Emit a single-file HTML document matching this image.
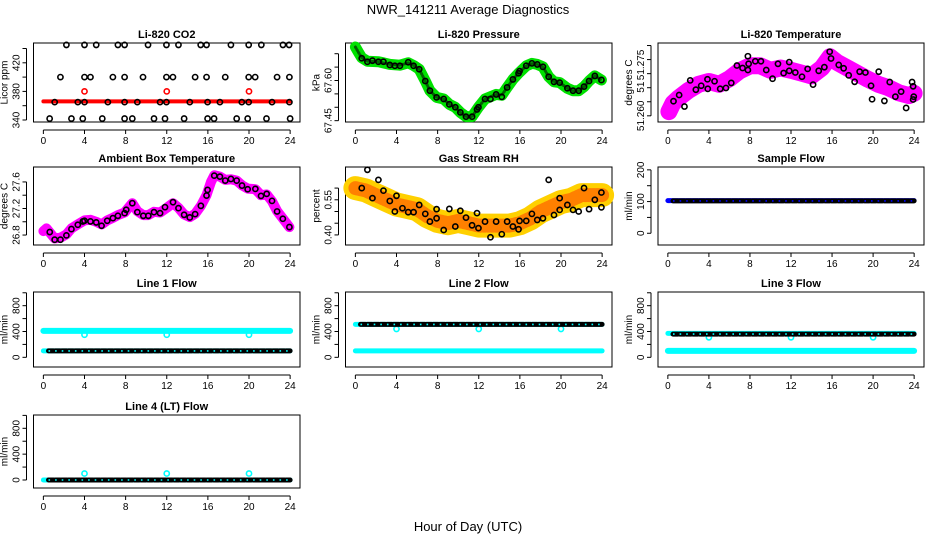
<!DOCTYPE html>
<html><head><meta charset="utf-8"><style>
html,body{margin:0;padding:0;background:#fff}
svg{display:block;font-family:"Liberation Sans",sans-serif}
</style></head><body>
<svg id="chart" width="936" height="540" viewBox="0 0 936 540" xmlns="http://www.w3.org/2000/svg">
<text x="468" y="14" text-anchor="middle" font-size="13">NWR_141211  Average Diagnostics</text>
<text x="468" y="531" text-anchor="middle" font-size="13">Hour of Day (UTC)</text>
</svg>
<script>
// ---- data ----
const xTicks = [0,4,8,12,16,20,24];
// CO2
const co2Hours = [2.24,4.0,5.14,7.25,7.9,10.18,11.97,13.14,15.3,15.87,18.24,19.97,21.2,23.3,23.9,
 1.66,4.0,4.58,6.76,7.9,9.69,11.97,12.6,14.76,15.87,17.69,19.97,20.6,22.73,23.93,
 1.1,3.35,4.0,6.27,7.9,9.14,11.35,11.97,14.24,15.97,17.17,19.3,19.97,22.24,23.93,
 0.61,2.73,3.83,5.73,7.9,8.65,10.76,11.83,13.69,15.97,16.6,18.8,19.87,21.7,24];
const co2Values = [445,445,445,445,445,445,445,445,445,445,445,445,445,445,445,
 400,400,400,400,400,400,400,400,400,400,400,400,400,400,400,
 365,365,365,365,365,365,365,365,365,365,365,365,365,365,365,
 342,342,342,342,342,342,342,342,342,342,342,342,342,342,342];
const co2BandHours = [0,4,8,12,16,20,24];
const co2BandValues = [366,366,366,366,366,366,366];
const co2OutHours = [4,12,20];
const co2OutValues = [380,380,380];
// Pressure
const presHours = [0.62,1.17,1.66,2.24,2.73,3.35,3.84,4.33,5.14,5.66,6.21,6.8,7.25,7.9,8.59,9.14,9.72,10.21,10.76,11.35,11.83,11.97,12.61,13.14,13.69,14.24,14.76,15.32,15.87,15.97,16.62,17.17,17.69,18.24,18.8,19.32,19.87,20.62,21.17,21.72,22.24,22.73,23.29,23.93];
const presValues = [67.683,67.670,67.674,67.670,67.670,67.658,67.655,67.655,67.668,67.655,67.642,67.598,67.562,67.537,67.531,67.511,67.500,67.481,67.465,67.465,67.492,67.500,67.531,67.531,67.548,67.539,67.574,67.604,67.627,67.635,67.655,67.664,67.660,67.651,67.614,67.595,67.592,67.571,67.562,67.562,67.577,67.598,67.617,67.602];
const presBandHours = [0,0.3,0.62,1.17,2.24,3.35,4.33,5.14,5.66,6.21,6.8,7.25,7.9,8.59,9.14,9.72,10.21,10.76,11.35,11.97,12.61,13.69,14.24,14.76,15.32,15.87,16.62,17.17,17.69,18.24,18.8,19.32,19.87,20.62,21.17,21.72,22.24,22.73,23.29,23.93];
const presBandValues = [67.725,67.705,67.685,67.672,67.670,67.660,67.657,67.666,67.656,67.642,67.598,67.562,67.537,67.531,67.511,67.500,67.481,67.465,67.465,67.500,67.531,67.548,67.545,67.574,67.604,67.627,67.655,67.664,67.660,67.651,67.614,67.595,67.592,67.571,67.562,67.562,67.577,67.598,67.617,67.602];
// Li-820 temperature
const ltHours = [0.55,1.1,1.62,2.18,2.73,3.25,3.86,3.89,4.55,5.1,5.66,6.18,6.73,7.28,7.8,7.8,7.87,8.52,9.07,9.59,10.2,10.73,11.28,11.83,11.83,12.42,13.07,13.62,14.15,14.7,15.25,15.77,15.9,16.65,17.13,17.62,18.2,18.69,19.25,19.8,19.9,20.55,21.1,21.62,22.17,22.73,23.22,23.8,23.9,23.9,23.96];
const ltValues = [51.2652,51.2674,51.2633,51.2726,51.2693,51.2707,51.2730,51.2696,51.2723,51.2696,51.2699,51.2717,51.2779,51.2770,51.2812,51.2763,51.2785,51.2794,51.2794,51.2763,51.2732,51.2785,51.2752,51.2791,51.2760,51.2754,51.2739,51.2767,51.2711,51.2760,51.2773,51.2828,51.2804,51.2781,51.2769,51.2744,51.2721,51.2757,51.2754,51.2707,51.2659,51.2757,51.2653,51.2720,51.2668,51.2686,51.2628,51.2720,51.2705,51.2658,51.2668];
const ltBandHours = [0.1,0.5,1,2,3,4,5,6,7,8,9,10,11,12,13,14,15,15.8,16.5,17.5,18.5,19.5,20.5,21.5,22.5,23.5,24];
const ltBandValues = [51.2615,51.2645,51.2662,51.2690,51.2712,51.2722,51.2712,51.2732,51.2760,51.2778,51.2778,51.2762,51.2770,51.2762,51.2752,51.2742,51.2770,51.2810,51.2790,51.2770,51.2750,51.2730,51.2712,51.2700,51.2682,51.2672,51.2680];
// Ambient box temperature
const abHours = [0.62,1.1,1.66,2.24,2.73,3.35,3.84,4.0,4.58,5.14,5.66,6.21,6.76,7.25,7.9,8.06,8.65,9.14,9.72,10.21,10.76,11.35,11.83,12.61,13.14,13.69,14.24,14.76,15.32,15.87,15.97,16.62,17.17,17.69,18.24,18.8,19.32,19.87,20.62,21.17,21.72,22.24,22.73,23.29,23.93];
const abValues = [26.845,26.73,26.73,26.795,26.89,26.955,27.005,27.015,27.005,26.99,26.94,27.015,27.055,27.09,27.13,27.18,27.28,27.145,27.09,27.09,27.145,27.13,27.22,27.295,27.205,27.105,27.065,27.115,27.24,27.395,27.48,27.695,27.68,27.62,27.645,27.62,27.545,27.49,27.495,27.39,27.42,27.315,27.155,27.045,26.92];
const abBandHours = [0,0.3,0.62,1.1,1.66,2.24,2.73,3.35,4.0,4.58,5.14,5.66,6.21,6.76,7.25,7.9,8.65,9.14,9.72,10.21,10.76,11.35,12.0,12.61,13.14,13.69,14.24,14.76,15.32,15.87,16.3,16.62,17.17,17.69,18.24,18.8,19.32,19.87,20.62,21.17,21.72,22.24,22.73,23.29,23.93];
const abBandValues = [26.86,26.90,26.84,26.75,26.76,26.81,26.90,26.96,27.02,27.03,27.00,26.96,27.02,27.06,27.10,27.14,27.28,27.16,27.10,27.10,27.15,27.14,27.21,27.28,27.21,27.11,27.07,27.12,27.24,27.40,27.60,27.70,27.68,27.63,27.64,27.62,27.55,27.50,27.49,27.40,27.41,27.31,27.16,27.05,26.92];
// Gas stream RH
const rhHours = [0.62,1.17,1.66,2.24,2.73,3.35,3.84,4.0,4.58,5.14,5.66,6.21,6.8,7.25,7.9,7.9,8.59,9.14,9.72,10.21,10.76,11.35,11.83,11.97,12.61,13.14,13.69,14.24,14.76,15.32,15.87,15.97,16.62,17.17,17.69,18.24,18.8,19.32,19.87,19.87,20.62,21.17,21.72,22.24,22.73,23.29,23.93,23.93];
const rhValues = [0.600,0.678,0.557,0.635,0.589,0.545,0.500,0.567,0.514,0.497,0.497,0.528,0.490,0.457,0.471,0.510,0.421,0.511,0.436,0.503,0.474,0.441,0.493,0.429,0.457,0.390,0.457,0.403,0.457,0.436,0.424,0.460,0.460,0.490,0.464,0.471,0.635,0.485,0.507,0.557,0.528,0.507,0.500,0.600,0.510,0.550,0.581,0.518];
const rhBandHours = [0,1,2,3,4,5,6,7,8,9,10,11,12,13,14,15,16,17,18,19,20,21,22,23,24];
const rhBandValues = [0.60,0.59,0.57,0.55,0.53,0.52,0.51,0.48,0.46,0.45,0.46,0.45,0.44,0.44,0.44,0.44,0.45,0.47,0.50,0.52,0.54,0.55,0.57,0.57,0.57];
// Flows: [start hour, end hour] segments with level
const segHours = [0, 24];
const segHoursLate = [0.5, 24];
const sfBand = [103, 103]; const sfBlack = [102, 102];
const l1Upper = [410, 410]; const l1Lower = [100, 100]; const l1Black = [100, 100];
const l2Upper = [510, 510]; const l2Lower = [100, 100]; const l2Black = [510, 510];
const l3Upper = [370, 370]; const l3Lower = [100, 100]; const l3Black = [360, 360];
const l4Cyan = [0, 0]; const l4Black = [0, 0];
const outHours = [4, 12, 20];
const l1Out = [350, 350, 350];
const l2Out = [440, 440, 440];
const l3Out = [310, 310, 310];
const l4Out = [100, 100, 100];

// ---- drawing ----
const svg = document.getElementById('chart');
const NS = 'http://www.w3.org/2000/svg';
function mk(tag, attrs, parent) {
  const e = document.createElementNS(NS, tag);
  for (const k in attrs) e.setAttribute(k, attrs[k]);
  (parent || svg).appendChild(e);
  return e;
}
const cols = [[33.5, 300], [345.5, 612], [658, 924]];
const rows = [[43, 122], [167, 245], [292, 367], [415, 488]];

function panel(name, c, r, title, ylabel, ymin, ymax, yticks, ylabs) {
  const g = mk('g', {});
  
  
  const [bx0, bx1] = cols[c], [by0, by1] = rows[r];
  const X = h => bx0 + (h + 0.96) / 25.92 * (bx1 - bx0);
  const Y = v => by1 - (v - ymin) / (ymax - ymin) * (by1 - by0);
  const box = mk('rect', {x: bx0, y: by0, width: bx1 - bx0, height: by1 - by0, fill: 'none', stroke: '#000', 'stroke-width': 1}, g);
  
  
  const t = mk('text', {x: (bx0 + bx1) / 2, y: by0 - 5, 'text-anchor': 'middle', 'font-size': 11, 'font-weight': 'bold'}, g);
  t.textContent = title;
  
  
  const ax = by1 + 8;
  const xa = mk('g', {}, g);
  
  
  mk('line', {x1: X(0), x2: X(24), y1: ax, y2: ax, stroke: '#000'}, xa);
  xTicks.forEach(v => {
    mk('line', {x1: X(v), x2: X(v), y1: ax, y2: ax + 4, stroke: '#000'}, xa);
    const tl = mk('text', {x: X(v), y: ax + 14, 'text-anchor': 'middle', 'font-size': 10}, xa);
    tl.textContent = v;
  });
  const ay = bx0 - 7;
  const ya = mk('g', {}, g);
  
  
  mk('line', {x1: ay, x2: ay, y1: Y(yticks[0]), y2: Y(yticks[yticks.length - 1]), stroke: '#000'}, ya);
  yticks.forEach(v => mk('line', {x1: ay - 4, x2: ay, y1: Y(v), y2: Y(v), stroke: '#000'}, ya));
  ylabs.forEach(([v, s]) => {
    const tl = mk('text', {x: 0, y: 0, 'text-anchor': 'middle', 'font-size': 10, transform: `translate(${ay - 7},${Y(v)}) rotate(-90)`}, ya);
    tl.textContent = s;
  });
  const yl = mk('text', {x: 0, y: 0, 'text-anchor': 'middle', 'font-size': 10, transform: `translate(${ay - 19},${(by0 + by1) / 2}) rotate(-90)`}, ya);
  yl.textContent = ylabel;
  
  
  return {g, X, Y};
}
function band(p, hs, vs, color, w, name, dash) {
  const pts = hs.map((h, i) => p.X(h).toFixed(1) + ',' + p.Y(vs[i]).toFixed(1)).join(' ');
  const a = {points: pts, fill: 'none', stroke: color, 'stroke-width': w, 'stroke-linecap': 'round', 'stroke-linejoin': 'round'};
  if (dash) a['stroke-dasharray'] = dash;
  const e = mk('polyline', a, p.g);
  
  
  return e;
}
function dots(p, hs, vs, color, name, r) {
  const g = mk('g', {}, p.g);
  
  
  hs.forEach((h, i) => {
    const c = mk('circle', {cx: p.X(h), cy: p.Y(vs[i]), r: r || 2.6, fill: 'none', stroke: color, 'stroke-width': 1.6}, g);
    
    
  });
}
function chain(p, hs, vs, name, inner) {
  band(p, hs, vs, '#000', 5, name, '5 1.6');
  const e = band(p, hs, vs, inner, 1.6, name + '-core', '1.6 5');
  e.setAttribute('stroke-linecap', 'butt');
}

// CO2
let p = panel('co2-panel', 0, 0, 'Li-820 CO2', 'Licor ppm', 337.2, 447.7, [340,360,380,400,420,440], [[340,'340'],[380,'380'],[420,'420']]);
band(p, co2BandHours, co2BandValues, '#ff0000', 4, 'co2-band');
dots(p, co2OutHours, co2OutValues, '#ff0000', 'co2-outliers');
dots(p, co2Hours, co2Values, '#000', 'co2-points');
// Pressure
p = panel('pressure-panel', 1, 0, 'Li-820 Pressure', 'kPa', 67.445, 67.74, [67.45,67.50,67.55,67.60,67.65,67.70], [[67.45,'67.45'],[67.60,'67.60']]);
band(p, presBandHours, presBandValues, '#00e000', 11, 'pressure-band');
band(p, presBandHours, presBandValues, '#006000', 3, 'pressure-band-core', '1 2');
dots(p, presHours, presValues, '#000', 'pressure-points');
// Li temp
p = panel('li-temp-panel', 2, 0, 'Li-820 Temperature', 'degrees C', 51.2578, 51.2859, [51.260,51.265,51.270,51.275,51.280,51.285], [[51.2600,'51.260'],[51.2702,'51'],[51.2781,'51.275']]);
band(p, ltBandHours, ltBandValues, '#ff00ff', 17, 'li-temp-band');
dots(p, ltHours, ltValues, '#000', 'li-temp-points');
// Ambient
p = panel('ambient-temp-panel', 0, 1, 'Ambient Box Temperature', 'degrees C', 26.65, 27.825, [26.8,27.0,27.2,27.4,27.6], [[26.8,'26.8'],[27.2,'27.2'],[27.6,'27.6']]);
band(p, abBandHours, abBandValues, '#ff00ff', 10, 'ambient-band');
dots(p, abHours, abValues, '#000', 'ambient-points');
// RH
p = panel('rh-panel', 1, 1, 'Gas Stream RH', 'percent', 0.357, 0.69, [0.40,0.45,0.50,0.55,0.60], [[0.40,'0.40'],[0.55,'0.55']]);
band(p, rhBandHours, rhBandValues, '#ffd000', 24, 'rh-band');
band(p, rhBandHours, rhBandValues, '#ff8000', 14, 'rh-band-core', '2 2');
dots(p, rhHours, rhValues, '#000', 'rh-points');
// Sample flow
p = panel('sample-flow-panel', 2, 1, 'Sample Flow', 'ml/min', -37, 209, [0,50,100,150,200], [[0,'0'],[100,'100'],[200,'200']]);
band(p, segHours, sfBand, '#0000ff', 5, 'sample-flow-band');
chain(p, segHoursLate, sfBlack, 'sample-flow-points', '#0000ff');
const flowTicks = [0,200,400,600,800,1000];
const flowLabs = [[0,'0'],[400,'400'],[800,'800']];
// Line 1
p = panel('line1-panel', 0, 2, 'Line 1 Flow', 'ml/min', -150, 1012, flowTicks, flowLabs);
band(p, segHours, l1Upper, '#00ffff', 6, 'line1-upper');
band(p, segHours, l1Lower, '#00ffff', 5, 'line1-lower');
dots(p, outHours, l1Out, '#00ffff', 'line1-outliers');
chain(p, segHoursLate, l1Black, 'line1-points', '#00ffff');
// Line 2
p = panel('line2-panel', 1, 2, 'Line 2 Flow', 'ml/min', -150, 1012, flowTicks, flowLabs);
band(p, segHours, l2Upper, '#00ffff', 5, 'line2-upper');
band(p, segHours, l2Lower, '#00ffff', 5, 'line2-lower');
dots(p, outHours, l2Out, '#00ffff', 'line2-outliers');
chain(p, segHoursLate, l2Black, 'line2-points', '#00ffff');
// Line 3
p = panel('line3-panel', 2, 2, 'Line 3 Flow', 'ml/min', -150, 1012, flowTicks, flowLabs);
band(p, segHours, l3Upper, '#00ffff', 5, 'line3-upper');
band(p, segHours, l3Lower, '#00ffff', 6, 'line3-lower');
dots(p, outHours, l3Out, '#00ffff', 'line3-outliers');
chain(p, segHoursLate, l3Black, 'line3-points', '#00ffff');
// Line 4
p = panel('line4-panel', 0, 3, 'Line 4 (LT) Flow', 'ml/min', -124, 1006, flowTicks, flowLabs);
band(p, segHours, l4Cyan, '#00ffff', 5, 'line4-cyan');
dots(p, outHours, l4Out, '#00ffff', 'line4-outliers');
chain(p, segHoursLate, l4Black, 'line4-points', '#00ffff');
</script>
</body></html>
